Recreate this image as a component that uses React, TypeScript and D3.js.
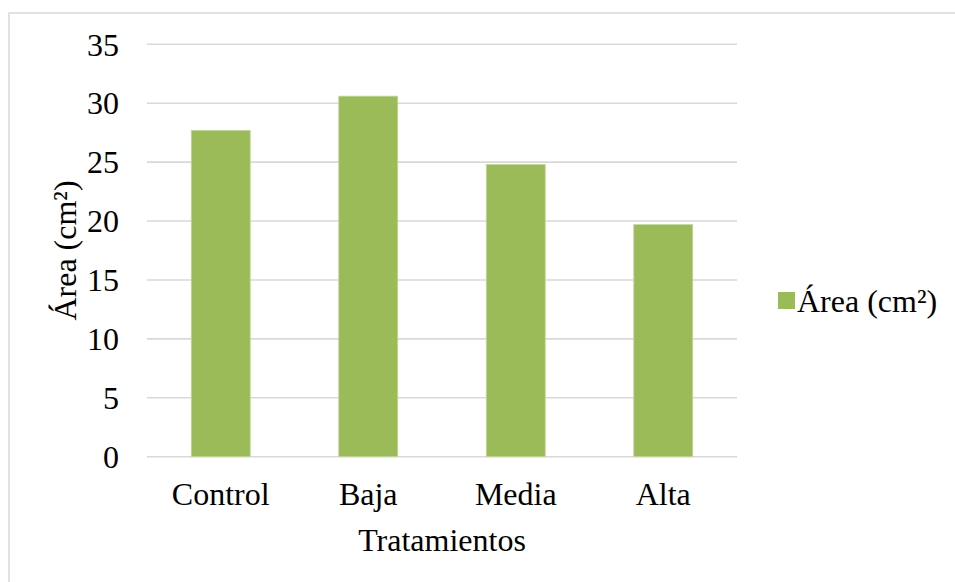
import React from "react";
import * as d3 from "d3";

const categories = ["Control", "Baja", "Media", "Alta"];
const areaValues = [27.7, 30.6, 24.8, 19.7];
const yTicks = [0, 5, 10, 15, 20, 25, 30, 35];
const seriesName = "Área (cm²)";
const xTitle = "Tratamientos";
const yTitle = "Área (cm²)";

const W = 955;
const H = 582;
const plot = { left: 147, right: 737, top: 44.3, bottom: 456.7 };
const barColor = "#9BBB59";
const gridColor = "#d9d9d9";
const font = "'Liberation Serif', 'Times New Roman', serif";
const fontSize = 32;

export default function App() {
  const x = d3
    .scaleBand<string>()
    .domain(categories)
    .range([plot.left, plot.right])
    .paddingInner(0.6)
    .paddingOuter(0.3);
  const y = d3.scaleLinear().domain([0, 35]).range([plot.bottom, plot.top]);

  return (
    <svg
      width={W}
      height={H}
      style={{ position: "absolute", left: 0, top: 0, background: "#fff" }}
      fontFamily={font}
    >
      <rect x={0} y={0} width={W} height={H} fill="#fff" />
      {/* chart area frame */}
      <rect
        x={9}
        y={13}
        width={W + 20}
        height={H + 20}
        fill="none"
        stroke={gridColor}
        strokeWidth={1.5}
      />
      {/* gridlines */}
      {yTicks.map((t) => (
        <line
          key={t}
          x1={plot.left}
          x2={plot.right}
          y1={y(t)}
          y2={y(t)}
          stroke={gridColor}
          strokeWidth={1.6}
        />
      ))}
      {/* y tick labels */}
      {yTicks.map((t) => (
        <text
          key={"l" + t}
          x={119}
          y={y(t)}
          dy="0.35em"
          textAnchor="end"
          fontSize={fontSize}
          fill="#000"
        >
          {t}
        </text>
      ))}
      {/* bars */}
      {categories.map((c, i) => (
        <rect
          key={c}
          x={x(c)}
          y={y(areaValues[i])}
          width={x.bandwidth()}
          height={y(0) - y(areaValues[i])}
          fill={barColor}
          stroke="#c5d9a0"
          strokeWidth={0.8}
        />
      ))}
      {/* x tick labels */}
      {categories.map((c) => (
        <text
          key={"x" + c}
          x={(x(c) as number) + x.bandwidth() / 2}
          y={505}
          textAnchor="middle"
          fontSize={fontSize}
          fill="#000"
        >
          {c}
        </text>
      ))}
      {/* axis titles */}
      <text
        x={(plot.left + plot.right) / 2}
        y={551}
        textAnchor="middle"
        fontSize={fontSize}
        fill="#000"
      >
        {xTitle}
      </text>
      <text
        transform={`translate(76, ${(plot.top + plot.bottom) / 2}) rotate(-90)`}
        textAnchor="middle"
        fontSize={fontSize}
        fill="#000"
      >
        {yTitle}
      </text>
      {/* legend */}
      <rect x={778} y={292} width={17} height={17} fill={barColor} />
      <text x={797} y={312} fontSize={fontSize} fill="#000">
        {seriesName}
      </text>
    </svg>
  );
}
